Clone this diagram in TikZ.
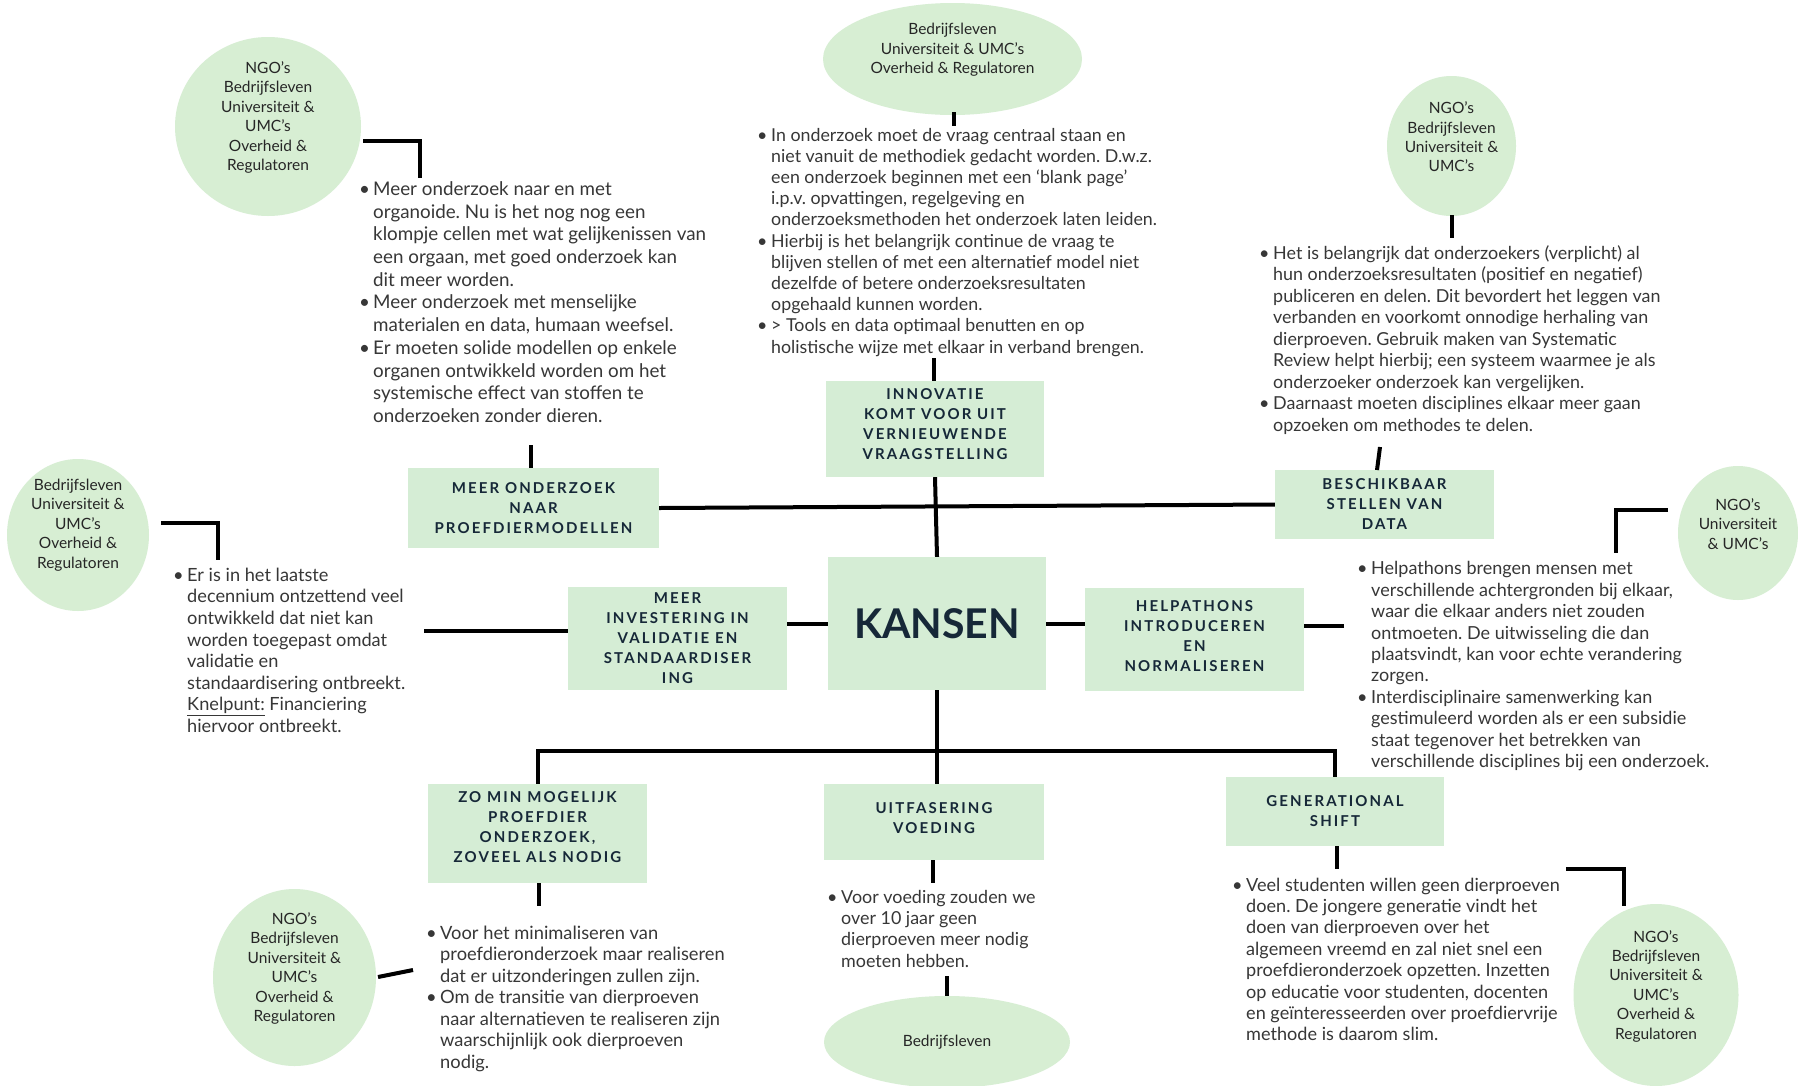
\documentclass[tikz,border=0pt]{standalone}
\usepackage{fontspec}
\setmainfont{Lato}
\usetikzlibrary{shapes.geometric}
\definecolor{boxgreen}{RGB}{213,237,213}
\definecolor{ellgreen}{RGB}{215,238,211}
\definecolor{titlenavy}{RGB}{22,40,56}
\definecolor{bodygrey}{RGB}{55,55,55}
\newcommand{\myb}{\makebox[14pt][l]{\strut\textbullet}}
\newcommand{\myc}{\hspace*{14pt}}
\frenchspacing
\begin{document}
\begin{tikzpicture}[x=1pt,y=-1pt,
  conn/.style={line width=4pt,black},
  box/.style={fill=boxgreen,draw=none,inner sep=0},
  ttl/.style={align=center,inner sep=0,text=titlenavy,
    font=\bfseries\fontsize{15}{20}\selectfont\addfontfeature{LetterSpace=14}},
  ell/.style={ellipse,fill=ellgreen,draw=none,inner sep=0},
  elltext/.style={align=center,inner sep=0,text=black!85,font=\fontsize{15.5}{19.4}\selectfont},
  body/.style={anchor=north west,align=left,inner sep=0,text=bodygrey}]
\fill[white] (0,0) rectangle (1798,1085);
\useasboundingbox (0,0) rectangle (1798,1085);

% ---------- ellipses ----------
\node[ell,minimum width=186pt,minimum height=179pt] (e1) at (268,126.5) {};
\node[elltext] (e1t) at ([yshift=9pt]e1.center) {NGO’s\\Bedrijfsleven\\Universiteit \&\\UMC’s\\Overheid \&\\Regulatoren};
\node[ell,minimum width=259pt,minimum height=112pt] (e2) at (952.5,59) {};
\node[elltext] (e2t) at ([yshift=9pt]e2.center) {Bedrijfsleven\\Universiteit \& UMC’s\\Overheid \& Regulatoren};
\node[ell,minimum width=129pt,minimum height=140pt] (e3) at (1451.5,146) {};
\node[elltext] (e3t) at ([yshift=9pt]e3.center) {NGO’s\\Bedrijfsleven\\Universiteit \&\\UMC’s};
\node[ell,minimum width=142pt,minimum height=152pt] (e4) at (78,535) {};
\node[elltext] (e4t) at ([yshift=10pt]e4.center) {Bedrijfsleven\\Universiteit \&\\UMC’s\\Overheid \&\\Regulatoren};
\node[ell,minimum width=120pt,minimum height=134pt] (e5) at (1738,533) {};
\node[elltext] (e5t) at ([yshift=9pt]e5.center) {NGO’s\\Universiteit\\\& UMC’s};
\node[ell,minimum width=163pt,minimum height=177pt] (e6) at (294.5,977.5) {};
\node[elltext] (e6t) at ([yshift=9pt]e6.center) {NGO’s\\Bedrijfsleven\\Universiteit \&\\UMC’s\\Overheid \&\\Regulatoren};
\node[ell,minimum width=246pt,minimum height=92pt] (e7) at (947,1042) {};
\node[elltext] (e7t) at (e7.center) {Bedrijfsleven};
\node[ell,minimum width=165pt,minimum height=182pt] (e8) at (1656,995) {};
\node[elltext] (e8t) at ([yshift=9pt]e8.center) {NGO’s\\Bedrijfsleven\\Universiteit \&\\UMC’s\\Overheid \&\\Regulatoren};

% ---------- boxes ----------
\node[box,minimum width=218pt,minimum height=133pt,text=titlenavy,
  font=\bfseries\fontsize{41}{48}\selectfont] (kansen) at (937,623.5) {KANSEN};
\node[box,minimum width=218pt,minimum height=96pt] (innov) at (935,429) {};
\node[ttl] (innovt) at ([yshift=4.5pt]innov.center) {INNOVATIE\\KOMT VOOR UIT\\VERNIEUWENDE\\VRAAGSTELLING};
\node[box,minimum width=251pt,minimum height=80pt] (meer) at (533.5,508) {};
\node[ttl] (meert) at (meer.center) {MEER ONDERZOEK\\NAAR\\PROEFDIERMODELLEN};
\node[box,minimum width=219pt,minimum height=69pt] (besch) at (1384.5,504.5) {};
\node[ttl] (bescht) at (besch.center) {BESCHIKBAAR\\STELLEN VAN\\DATA};
\node[box,minimum width=219pt,minimum height=103pt] (invest) at (677.5,638.5) {};
\node[ttl] (investt) at (invest.center) {MEER\\INVESTERING IN\\VALIDATIE EN\\STANDAARDISER\\ING};
\node[box,minimum width=219pt,minimum height=103pt] (helpa) at (1194.5,639.5) {};
\node[ttl] (helpat) at ([yshift=3pt]helpa.center) {HELPATHONS\\INTRODUCEREN\\EN\\NORMALISEREN};
\node[box,minimum width=219pt,minimum height=99pt] (zomin) at (537.5,833.5) {};
\node[ttl] (zomint) at ([yshift=6pt]zomin.center) {ZO MIN MOGELIJK\\PROEFDIER\\ONDERZOEK,\\ZOVEEL ALS NODIG};
\node[box,minimum width=220pt,minimum height=76pt] (uitf) at (934,822) {};
\node[ttl] (uitft) at ([yshift=4pt]uitf.center) {UITFASERING\\VOEDING};
\node[box,minimum width=218pt,minimum height=69pt] (gen) at (1335,811.5) {};
\node[ttl] (gent) at (gen.center) {GENERATIONAL\\SHIFT};

% ---------- text blocks ----------
\node[body,font=\fontsize{18.8}{22.7}\selectfont] (tltext) at (359,179.3) {%
\myb Meer onderzoek naar en met\\
\myc organoide. Nu is het nog nog een\\
\myc klompje cellen met wat gelijkenissen van\\
\myc een orgaan, met goed onderzoek kan\\
\myc dit meer worden.\\
\myb Meer onderzoek met menselijke\\
\myc materialen en data, humaan weefsel.\\
\myb Er moeten solide modellen op enkele\\
\myc organen ontwikkeld worden om het\\
\myc systemische effect van stoffen te\\
\myc onderzoeken zonder dieren.};

\node[body,font=\fontsize{17.8}{21.2}\selectfont] (tctext) at (757,126.1) {%
\myb In onderzoek moet de vraag centraal staan en\\
\myc niet vanuit de methodiek gedacht worden. D.w.z.\\
\myc een onderzoek beginnen met een ‘blank page’\\
\myc i.p.v. opvattingen, regelgeving en\\
\myc onderzoeksmethoden het onderzoek laten leiden.\\
\myb Hierbij is het belangrijk continue de vraag te\\
\myc blijven stellen of met een alternatief model niet\\
\myc dezelfde of betere onderzoeksresultaten\\
\myc opgehaald kunnen worden.\\
\myb > Tools en data optimaal benutten en op\\
\myc holistische wijze met elkaar in verband brengen.};

\node[body,font=\fontsize{17.9}{21.5}\selectfont] (trtext) at (1259,243.8) {%
\myb Het is belangrijk dat onderzoekers (verplicht) al\\
\myc hun onderzoeksresultaten (positief en negatief)\\
\myc publiceren en delen. Dit bevordert het leggen van\\
\myc verbanden en voorkomt onnodige herhaling van\\
\myc dierproeven. Gebruik maken van Systematic\\
\myc Review helpt hierbij; een systeem waarmee je als\\
\myc onderzoeker onderzoek kan vergelijken.\\
\myb Daarnaast moeten disciplines elkaar meer gaan\\
\myc opzoeken om methodes te delen.};

\node[body,font=\fontsize{18.2}{21.6}\selectfont] (ltext) at (173,565.9) {%
\myb Er is in het laatste\\
\myc decennium ontzettend veel\\
\myc ontwikkeld dat niet kan\\
\myc worden toegepast omdat\\
\myc validatie en\\
\myc standaardisering ontbreekt.\\
\myc \underline{Knelpunt:} Financiering\\
\myc hiervoor ontbreekt.};

\node[body,font=\fontsize{18}{21.4}\selectfont] (rtext) at (1357,559.8) {%
\myb Helpathons brengen mensen met\\
\myc verschillende achtergronden bij elkaar,\\
\myc waar die elkaar anders niet zouden\\
\myc ontmoeten. De uitwisseling die dan\\
\myc plaatsvindt, kan voor echte verandering\\
\myc zorgen.\\
\myb Interdisciplinaire samenwerking kan\\
\myc gestimuleerd worden als er een subsidie\\
\myc staat tegenover het betrekken van\\
\myc verschillende disciplines bij een onderzoek.};

\node[body,font=\fontsize{18.3}{21.5}\selectfont] (bltext) at (426,924) {%
\myb Voor het minimaliseren van\\
\myc proefdieronderzoek maar realiseren\\
\myc dat er uitzonderingen zullen zijn.\\
\myb Om de transitie van dierproeven\\
\myc naar alternatieven te realiseren zijn\\
\myc waarschijnlijk ook dierproeven\\
\myc nodig.};

\node[body,font=\fontsize{17.9}{21.3}\selectfont] (bctext) at (827,888.2) {%
\myb Voor voeding zouden we\\
\myc over 10 jaar geen\\
\myc dierproeven meer nodig\\
\myc moeten hebben.};

\node[body,font=\fontsize{18.1}{21.4}\selectfont] (brtext) at (1232,876) {%
\myb Veel studenten willen geen dierproeven\\
\myc doen. De jongere generatie vindt het\\
\myc doen van dierproeven over het\\
\myc algemeen vreemd en zal niet snel een\\
\myc proefdieronderzoek opzetten. Inzetten\\
\myc op educatie voor studenten, docenten\\
\myc en geïnteresseerden over proefdiervrije\\
\myc methode is daarom slim.};

% ---------- free-end coordinates ----------
\coordinate (c1a) at (363,141);   \coordinate (c1b) at (420,178);
\coordinate (c2a) at (954,112);   \coordinate (c2b) at (954,126);
\coordinate (c3a) at (1452,215);  \coordinate (c3b) at (1452,238);
\coordinate (c4a) at (161,523);   \coordinate (c4b) at (218,560);
\coordinate (c5a) at (1668,510);  \coordinate (c5b) at (1616,553);
\coordinate (c6a) at (378,977);   \coordinate (c6b) at (413,970);
\coordinate (c7a) at (947,976);
\coordinate (c8a) at (1566,869);  \coordinate (c8b) at (1624,906);
\coordinate (s1) at (934,358);
\coordinate (s2) at (531,445);
\coordinate (s3) at (1380,447);
\coordinate (s3b) at (1377,470);
\coordinate (s4) at (424,631);
\coordinate (s5) at (1344,626);
\coordinate (s6) at (539,906);
\coordinate (s7) at (933,883);
\coordinate (s8) at (1337,869);
\coordinate (busy) at (0,751);

% ---------- connectors ----------
\draw[conn] (c1a) -| (c1b);
\draw[conn] (c2a) -- (c2b);
\draw[conn] (c3a) -- (c3b);
\draw[conn] (c4a) -| (c4b);
\draw[conn] (c5a) -| (c5b);
\draw[conn] (c6a) -- (c6b);
\draw[conn] (c7a) -- (e7.north);
\draw[conn] (c8a) -| (c8b);

\draw[conn] (s1) -- (s1 |- innov.north);
\draw[conn] (s2) -- (s2 |- meer.north);
\draw[conn] (s3) -- (s3b);
\draw[conn] (s4) -- (s4 -| invest.west);
\draw[conn] (s5) -- (s5 -| helpa.east);
\draw[conn] (zomin.south -| s6) -- (s6);
\draw[conn] (uitf.south -| s7) -- (s7);
\draw[conn] (gen.south -| s8) -- (s8);

\draw[conn] (meer.east) -- (besch.west);
\draw[conn] (innov.south) -- (kansen.north);
\draw[conn] (kansen.west) -- (kansen.west -| invest.east);
\draw[conn] (kansen.east) -- (kansen.east -| helpa.west);
\draw[conn] (kansen.south) -- (kansen.south |- uitf.north);
\draw[conn] (zomin.north) |- (gen.north |- busy) -- (gen.north);
\end{tikzpicture}
\end{document}
